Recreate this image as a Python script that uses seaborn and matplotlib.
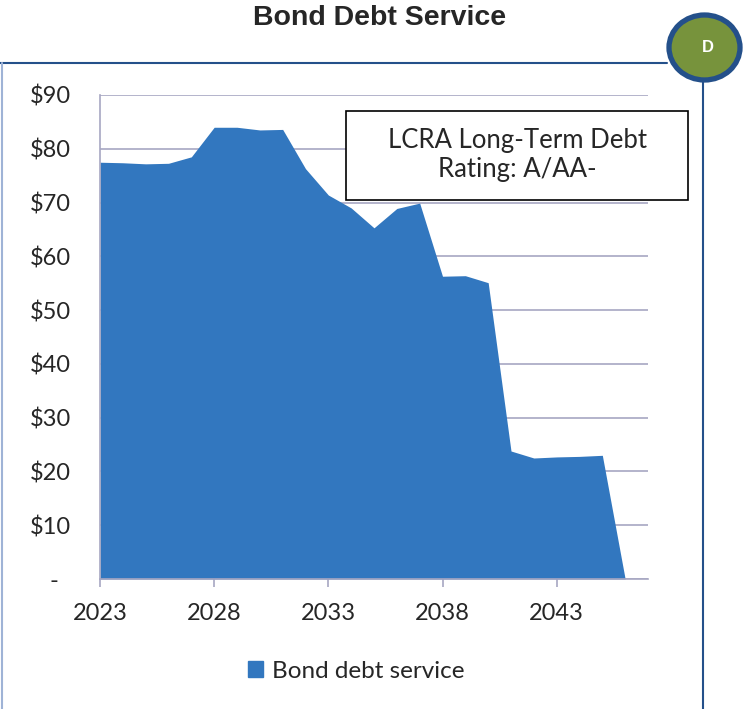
import matplotlib
matplotlib.use("Agg")
import matplotlib.pyplot as plt
import matplotlib.patches as mpatches
from matplotlib.lines import Line2D
import seaborn as sns
import pandas as pd

# data ($ millions)
years = list(range(2023, 2047))
debt_service = [77.5, 77.4, 77.2, 77.3, 78.5, 84.0, 84.0, 83.5, 83.6, 76.3,
                71.4, 69.0, 65.3, 68.9, 69.9, 56.3, 56.4, 55.1, 23.8, 22.5,
                22.7, 22.8, 23.0, 0.0]
y_ticks = [0, 10, 20, 30, 40, 50, 60, 70, 80, 90]
x_ticks = [2023, 2028, 2033, 2038, 2043]

title = "Bond Debt Service"
note = "LCRA Long-Term Debt\nRating: A/AA-"
series_name = "Bond debt service"

AREA = "#3277BF"
GRID = "#A7A7C2"
FRAME = "#24508A"

sns.set_theme(style="white")
plt.rcParams['font.family'] = ['Lato', 'DejaVu Sans']

W, H = 751, 709
fig = plt.figure(figsize=(W / 100, H / 100), dpi=100)
ax = fig.add_axes([100 / W, 1 - 579 / H, 548 / W, 484 / H])

df = pd.DataFrame({"year": years, "value": debt_service})
sns.lineplot(data=df, x="year", y="value", ax=ax, color=AREA, linewidth=0)
ax.fill_between(df["year"], df["value"], 0, color=AREA, linewidth=0, label=series_name)

ax.set_xlim(2023, 2047)
ax.set_ylim(0, 90)
ax.set_xticks(x_ticks)
ax.set_xticklabels([str(t) for t in x_ticks], fontsize=17)
ax.set_yticks(y_ticks)
ax.set_yticklabels(["-  " if v == 0 else f"${v}" for v in y_ticks], fontsize=17)
ax.set_xlabel("")
ax.set_ylabel("")

ax.yaxis.grid(True, color=GRID, linewidth=1.2)
ax.set_axisbelow(True)
for side in ["top", "right"]:
    ax.spines[side].set_visible(False)
for side in ["left", "bottom"]:
    ax.spines[side].set_color(GRID)
    ax.spines[side].set_linewidth(1.2)
ax.tick_params(axis="y", length=0, pad=21)
ax.tick_params(axis="x", length=6, width=1.2, color=GRID, direction="out", pad=11, bottom=True)

# title
fig.text(380 / W, 1 - 18 / H, title, ha="center", va="center",
         fontsize=20.5, fontweight="bold", family=["Liberation Sans", "DejaVu Sans"])

# outer frame lines
fig.add_artist(Line2D([0, 667 / W], [1 - 63 / H, 1 - 63 / H], transform=fig.transFigure,
                      color=FRAME, linewidth=1.5))
fig.add_artist(Line2D([1.5 / W, 1.5 / W], [1 - 63 / H, 0], transform=fig.transFigure,
                      color="#9FB3D6", linewidth=1.5))
fig.add_artist(Line2D([703 / W, 703 / W], [1 - 82 / H, 0], transform=fig.transFigure,
                      color=FRAME, linewidth=1.5))

# badge
fig.add_artist(mpatches.Ellipse((704.5 / W, 1 - 47.5 / H), 71 / W, 65 / H,
                                transform=fig.transFigure, facecolor="#77933C",
                                edgecolor=FRAME, linewidth=3.8))
fig.text(707.5 / W, 1 - 48 / H, "D", ha="center", va="center", color="white",
         fontsize=12, fontweight="bold", family=["Liberation Sans", "DejaVu Sans"])

# rating note box
fig.add_artist(mpatches.Rectangle((346 / W, 1 - 200 / H), 342 / W, 89 / H,
                                  transform=fig.transFigure, facecolor="white",
                                  edgecolor="black", linewidth=1.2))
fig.text(517 / W, 1 - 155 / H, note, ha="center", va="center", fontsize=18.5,
         linespacing=1.18)

# legend
handle = mpatches.Patch(color=AREA, label=series_name)
fig.legend(handles=[handle], loc="center", bbox_to_anchor=(356 / W, 1 - 671 / H),
           frameon=False, fontsize=17.5, handlelength=0.62, handleheight=0.62,
           handletextpad=0.35)

fig.savefig("out.png", dpi=100)
